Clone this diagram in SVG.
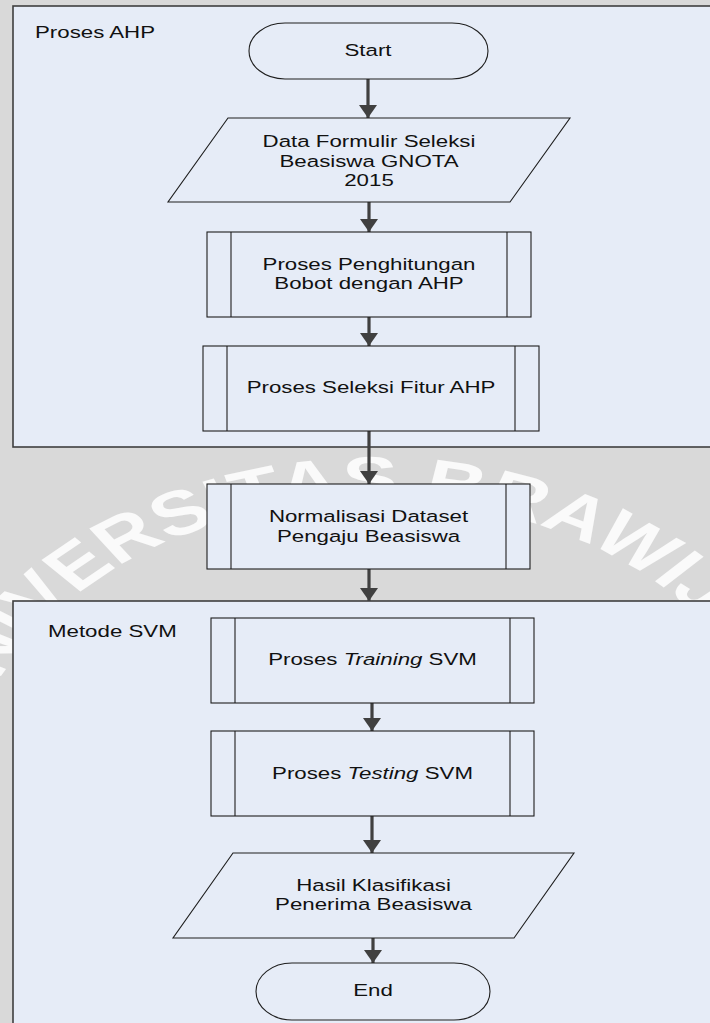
<svg xmlns="http://www.w3.org/2000/svg" width="710" height="1023" viewBox="0 0 710 1023">
  <defs>
    <style>
      .bg { fill: #d9d9d9; }
      .mark { fill: #ffffff; fill-opacity: 0.85; font-family: "Liberation Sans", Arial, sans-serif; font-weight: bold; font-size: 62px; }
      .lane { fill: #e6ecf7; stroke: #3f3f3f; stroke-width: 1.6; }
      .shape { fill: #e6ecf7; stroke: #1e1e1e; stroke-width: 1.1; }
      .bar { fill: none; stroke: #1e1e1e; stroke-width: 1.1; }
      .lbl { font-family: "Liberation Sans", Arial, sans-serif; font-size: 16.5px; fill: #111111; }
      .mid { text-anchor: middle; }
      .flow { stroke: #404040; stroke-width: 3.2; fill: none; marker-end: url(#head); }
    </style>
    <marker id="head" viewBox="0 0 13 18" markerWidth="13" markerHeight="18" refX="13" refY="9" orient="auto" markerUnits="userSpaceOnUse">
      <path d="M0,0 L13,9 L0,18 Z" fill="#404040"/>
    </marker>
    <path id="ring" d="M -305,805 A 305 305 0 0 1 305,805"/>
  </defs>

  <!-- page background with faint university watermark -->
  <rect class="bg" x="0" y="0" width="710" height="1023"/>
  <g id="watermark" transform="translate(375,0) scale(1.35,1)">
    <text class="mark"><textPath href="#ring" startOffset="50%" text-anchor="middle">UNIVERSITAS BRAWIJAYA</textPath></text>
  </g>

  <!-- swimlane containers -->
  <g id="lane-ahp">
    <rect class="lane" x="13" y="6" width="710" height="441"/>
    <text class="lbl" transform="translate(35,38) scale(1.35,1)">Proses AHP</text>
  </g>
  <g id="lane-svm">
    <rect class="lane" x="13" y="601" width="710" height="440"/>
    <text class="lbl" transform="translate(48,637) scale(1.35,1)">Metode SVM</text>
  </g>

  <!-- connectors -->
  <g id="connectors">
    <line class="flow" x1="368" y1="79" x2="368" y2="118"/>
    <line class="flow" x1="369" y1="202" x2="369" y2="232"/>
    <line class="flow" x1="369" y1="317" x2="369" y2="346"/>
    <line class="flow" x1="369" y1="431" x2="369" y2="484"/>
    <line class="flow" x1="369" y1="569" x2="369" y2="601"/>
    <line class="flow" x1="372" y1="703" x2="372" y2="731"/>
    <line class="flow" x1="372" y1="816" x2="372" y2="853"/>
    <line class="flow" x1="373" y1="938" x2="373" y2="963"/>
  </g>

  <!-- nodes -->
  <g id="start">
    <rect class="shape" x="249" y="23" width="239" height="56" rx="36" ry="28"/>
    <text class="lbl mid" transform="translate(368,56) scale(1.35,1)">Start</text>
  </g>

  <g id="data-formulir">
    <polygon class="shape" points="228,118 570,118 510,202 168,202"/>
    <text class="lbl mid" transform="translate(369,147) scale(1.35,1)">Data Formulir Seleksi</text>
    <text class="lbl mid" transform="translate(369,166.5) scale(1.35,1)">Beasiswa GNOTA</text>
    <text class="lbl mid" transform="translate(369,186) scale(1.35,1)">2015</text>
  </g>

  <g id="hitung-bobot">
    <rect class="shape" x="207" y="232" width="324" height="85"/>
    <line class="bar" x1="231" y1="232" x2="231" y2="317"/>
    <line class="bar" x1="507" y1="232" x2="507" y2="317"/>
    <text class="lbl mid" transform="translate(369,270) scale(1.35,1)">Proses Penghitungan</text>
    <text class="lbl mid" transform="translate(369,289) scale(1.35,1)">Bobot dengan AHP</text>
  </g>

  <g id="seleksi-fitur">
    <rect class="shape" x="203" y="346" width="336" height="85"/>
    <line class="bar" x1="227" y1="346" x2="227" y2="431"/>
    <line class="bar" x1="515" y1="346" x2="515" y2="431"/>
    <text class="lbl mid" transform="translate(371,393) scale(1.35,1)">Proses Seleksi Fitur AHP</text>
  </g>

  <g id="normalisasi">
    <rect class="shape" x="207" y="484" width="323" height="85"/>
    <line class="bar" x1="231" y1="484" x2="231" y2="569"/>
    <line class="bar" x1="506" y1="484" x2="506" y2="569"/>
    <text class="lbl mid" transform="translate(368.5,522) scale(1.35,1)">Normalisasi Dataset</text>
    <text class="lbl mid" transform="translate(368.5,542) scale(1.35,1)">Pengaju Beasiswa</text>
  </g>

  <g id="training">
    <rect class="shape" x="211" y="618" width="323" height="85"/>
    <line class="bar" x1="235" y1="618" x2="235" y2="703"/>
    <line class="bar" x1="510" y1="618" x2="510" y2="703"/>
    <text class="lbl mid" transform="translate(372.5,665) scale(1.35,1)">Proses <tspan font-style="italic">Training</tspan> SVM</text>
  </g>

  <g id="testing">
    <rect class="shape" x="211" y="731" width="323" height="85"/>
    <line class="bar" x1="235" y1="731" x2="235" y2="816"/>
    <line class="bar" x1="510" y1="731" x2="510" y2="816"/>
    <text class="lbl mid" transform="translate(372.5,779) scale(1.35,1)">Proses <tspan font-style="italic">Testing</tspan> SVM</text>
  </g>

  <g id="hasil">
    <polygon class="shape" points="233,853 574,853 514,938 173,938"/>
    <text class="lbl mid" transform="translate(373.5,891) scale(1.35,1)">Hasil Klasifikasi</text>
    <text class="lbl mid" transform="translate(373.5,910) scale(1.35,1)">Penerima Beasiswa</text>
  </g>

  <g id="end">
    <rect class="shape" x="256" y="963" width="234" height="57" rx="36" ry="28.5"/>
    <text class="lbl mid" transform="translate(373,996) scale(1.35,1)">End</text>
  </g>
</svg>
